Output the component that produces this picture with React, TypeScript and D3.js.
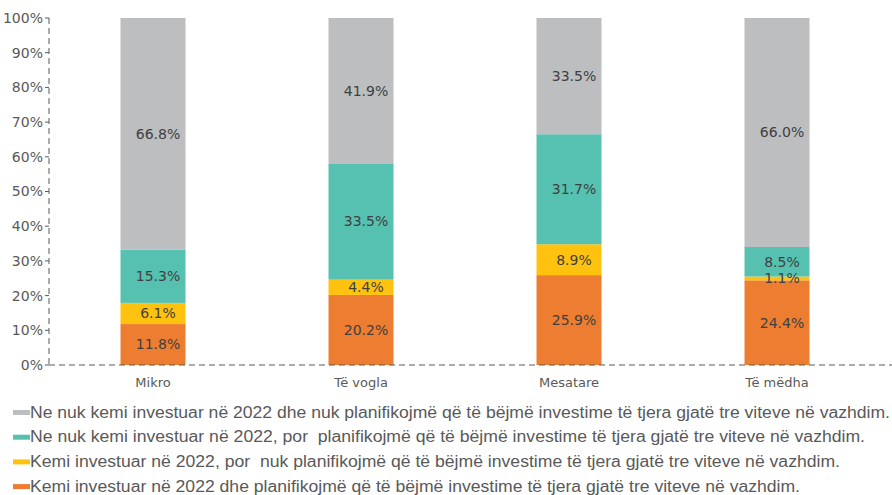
import * as d3 from 'd3';

const categories = ['Mikro', 'Të vogla', 'Mesatare', 'Të mëdha'];
const seriesNames = [
  'Kemi investuar në 2022 dhe planifikojmë që të bëjmë investime të tjera gjatë tre viteve në vazhdim.',
  'Kemi investuar në 2022, por  nuk planifikojmë që të bëjmë investime të tjera gjatë tre viteve në vazhdim.',
  'Ne nuk kemi investuar në 2022, por  planifikojmë që të bëjmë investime të tjera gjatë tre viteve në vazhdim.',
  'Ne nuk kemi investuar në 2022 dhe nuk planifikojmë që të bëjmë investime të tjera gjatë tre viteve në vazhdim.',
];
const investedPlan = [11.8, 20.2, 25.9, 24.4];
const investedNoPlan = [6.1, 4.4, 8.9, 1.1];
const notInvestedPlan = [15.3, 33.5, 31.7, 8.5];
const notInvestedNoPlan = [66.8, 41.9, 33.5, 66.0];
const colors = ['#ED7D31', '#FFC20E', '#56C1B0', '#BCBEC0'];
const yTicks = [0, 10, 20, 30, 40, 50, 60, 70, 80, 90, 100];

const W = 892;
const H = 495;
const m = { left: 49, right: 11, top: 18, bottom: 130 };
const font = "'DejaVu Sans', sans-serif";
const legendFont = "'Liberation Sans', sans-serif";
// approximate rendered widths of the legend lines in the reference
const legendWidths = [770, 810, 835, 860];

const App = () => {
  const series = [investedPlan, investedNoPlan, notInvestedPlan, notInvestedNoPlan];
  const rows = categories.map((c, i) => {
    const r: any = { cat: c };
    series.forEach((s, k) => (r['s' + k] = s[i]));
    return r;
  });
  const stacked = d3.stack().keys(['s0', 's1', 's2', 's3'])(rows);

  const x = d3.scaleBand().domain(categories).range([m.left, W - m.right]).padding(0);
  const y = d3.scaleLinear().domain([0, 100]).range([H - m.bottom, m.top]);
  const barW = 65;

  // legend order: grey first
  const legendOrder = [3, 2, 1, 0];

  return (
    <svg width={W} height={H} style={{ position: 'absolute', left: 0, top: 0 }}>
      <g>
        {stacked.map((layer, k) => (
          <g key={k} fill={colors[k]}>
            {layer.map((d, i) => (
              <rect
                key={i}
                x={x(categories[i])! + x.bandwidth() / 2 - barW / 2}
                width={barW}
                y={y(d[1])}
                height={y(d[0]) - y(d[1])}
              />
            ))}
          </g>
        ))}
        {stacked.map((layer, k) =>
          layer.map((d, i) => (
            <text
              key={k + '-' + i}
              x={x(categories[i])! + x.bandwidth() / 2 + 5}
              y={y((d[0] + d[1]) / 2)}
              dy="0.35em"
              textAnchor="middle"
              fontFamily={font}
              fontSize={14}
              fill="#404040"
            >
              {series[k][i].toFixed(1)}%
            </text>
          ))
        )}
      </g>
      <line x1={m.left} x2={m.left} y1={y(100)} y2={y(0)} stroke="#595959" strokeDasharray="6,4" />
      <line x1={m.left} x2={W} y1={y(0)} y2={y(0)} stroke="#595959" strokeDasharray="6,4" />
      {yTicks.map((t) => (
        <g key={t}>
          <line x1={m.left - 4} x2={m.left} y1={y(t)} y2={y(t)} stroke="#595959" />
          <text
            x={m.left - 6}
            y={y(t)}
            dy="0.35em"
            textAnchor="end"
            fontFamily={font}
            fontSize={14}
            fill="#595959"
          >
            {t}%
          </text>
        </g>
      ))}
      {categories.map((c) => (
        <text
          key={c}
          x={x(c)! + x.bandwidth() / 2}
          y={y(0) + 22}
          textAnchor="middle"
          fontFamily={font}
          fontSize={13}
          fill="#595959"
        >
          {c}
        </text>
      ))}
      {legendOrder.map((k, j) => (
        <g key={k} transform={`translate(13, ${412 + j * 24.7})`}>
          <rect x={0} y={-2} width={17} height={5} fill={colors[k]} />
          <text
            x={17}
            y={0}
            dy="0.35em"
            fontFamily={legendFont}
            fontSize={16}
            fill="#595959"
            textLength={legendWidths[k]}
            lengthAdjust="spacingAndGlyphs"
            style={{ whiteSpace: 'pre' }}
          >
            {seriesNames[k]}
          </text>
        </g>
      ))}
    </svg>
  );
};

export default App;
